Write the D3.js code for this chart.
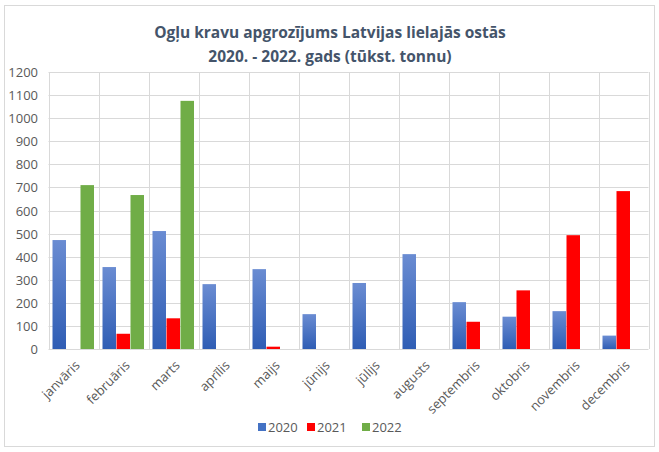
<!DOCTYPE html>
<html><head><meta charset="utf-8">
<script src="https://cdn.jsdelivr.net/npm/d3@7"></script>
<style>body{margin:0;background:#fff}svg{display:block}text{font-family:"Open Sans","Liberation Sans",sans-serif}</style>
</head><body>
<svg id="c" width="659" height="452"></svg>
<script>
const months = ["janvāris","februāris","marts","aprīlis","maijs","jūnijs","jūlijs","augusts","septembris","oktobris","novembris","decembris"];
const years = ["2020","2021","2022"];
const v2020 = [472,355,511,281,346,151,286,411,203,140,164,58];
const v2021 = [null,66,133,null,10,null,null,null,118,254,493,684];
const v2022 = [710,667,1075,null,null,null,null,null,null,null,null,null];
const yTicks = [0,100,200,300,400,500,600,700,800,900,1000,1100,1200];
const titleLines = ["Ogļu kravu apgrozījums Latvijas lielajās ostās","2020. - 2022. gads (tūkst. tonnu)"];
const colors = ["url(#gBlue)","#ff0000","#70ad47"];
const legendColors = ["#4472c4","#ff0000","#70ad47"];

const svg = d3.select("#c");
const defs = svg.append("defs");
const g = defs.append("linearGradient").attr("id","gBlue").attr("x1",0).attr("y1",0).attr("x2",0).attr("y2",1);
g.append("stop").attr("offset","0%").attr("stop-color","#6a8cd2");
g.append("stop").attr("offset","100%").attr("stop-color","#2f5db4");

svg.append("rect").attr("x",4.5).attr("y",5.5).attr("width",650).attr("height",441)
  .attr("fill","#fff").attr("stroke","#d9d9d9");

const x0 = d3.scaleBand().domain(months).range([48.5,648.5]).paddingInner(0).paddingOuter(0);
const x1 = d3.scaleBand().domain(years).range([4,46]).padding(0);
const y = d3.scaleLinear().domain([0,1200]).range([349,72]);

// grid
svg.append("g").selectAll("line.h").data(yTicks).join("line")
  .attr("x1",48.5).attr("x2",648.5).attr("y1",d=>Math.round(y(d))+0.5).attr("y2",d=>Math.round(y(d))+0.5)
  .attr("stroke","#d9d9d9");
const vb = months.map(m=>x0(m)).concat([x0.range()[1]]);
svg.append("g").selectAll("line.v").data(vb).join("line")
  .attr("x1",d=>Math.round(d)+0.5).attr("x2",d=>Math.round(d)+0.5).attr("y1",y(1200)).attr("y2",y(0))
  .attr("stroke","#d9d9d9");

// y axis labels
const yAxis = d3.axisLeft(y).tickValues(yTicks).tickSize(0).tickPadding(0).tickFormat(d3.format("d"));
const ya = svg.append("g").attr("transform","translate(38,0)").call(yAxis);
ya.select(".domain").remove();
ya.selectAll("text").attr("fill","#595959").style("font-size","13px").attr("dy","0.35em");

// bars
const series = [v2020,v2021,v2022];
series.forEach((vals,si)=>{
  svg.append("g").selectAll("rect").data(months.map((m,i)=>({m,v:vals[i]})).filter(d=>d.v!=null)).join("rect")
    .attr("x",d=>x0(d.m)+x1(years[si]))
    .attr("width",x1.bandwidth()-0.5)
    .attr("y",d=>y(d.v))
    .attr("height",d=>y(0)-y(d.v))
    .attr("fill",colors[si]);
});

// x labels
const xa = svg.append("g");
months.forEach(m=>{
  const cx = x0(m)+x0.bandwidth()/2+4;
  xa.append("text").attr("transform",`translate(${cx},${363}) rotate(-45)`)
    .attr("text-anchor","end").attr("dy","0.35em").attr("fill","#595959").style("font-size","13px").text(m);
});

// title
svg.append("g").selectAll("text").data(titleLines).join("text")
  .attr("x",330).attr("y",(d,i)=>38+i*24).attr("text-anchor","middle")
  .attr("fill","#44546a").style("font-size","15.5px").style("font-weight","bold").text(d=>d);

// legend
const lg = svg.append("g").attr("transform","translate(0,427)");
const lx = [258,307,362];
years.forEach((yr,i)=>{
  lg.append("rect").attr("x",lx[i]).attr("y",-4).attr("width",8).attr("height",8).attr("fill",legendColors[i]);
  lg.append("text").attr("x",lx[i]+10).attr("y",0).attr("dy","0.35em").attr("fill","#595959").style("font-size","13px").text(yr);
});
</script>
</body></html>
